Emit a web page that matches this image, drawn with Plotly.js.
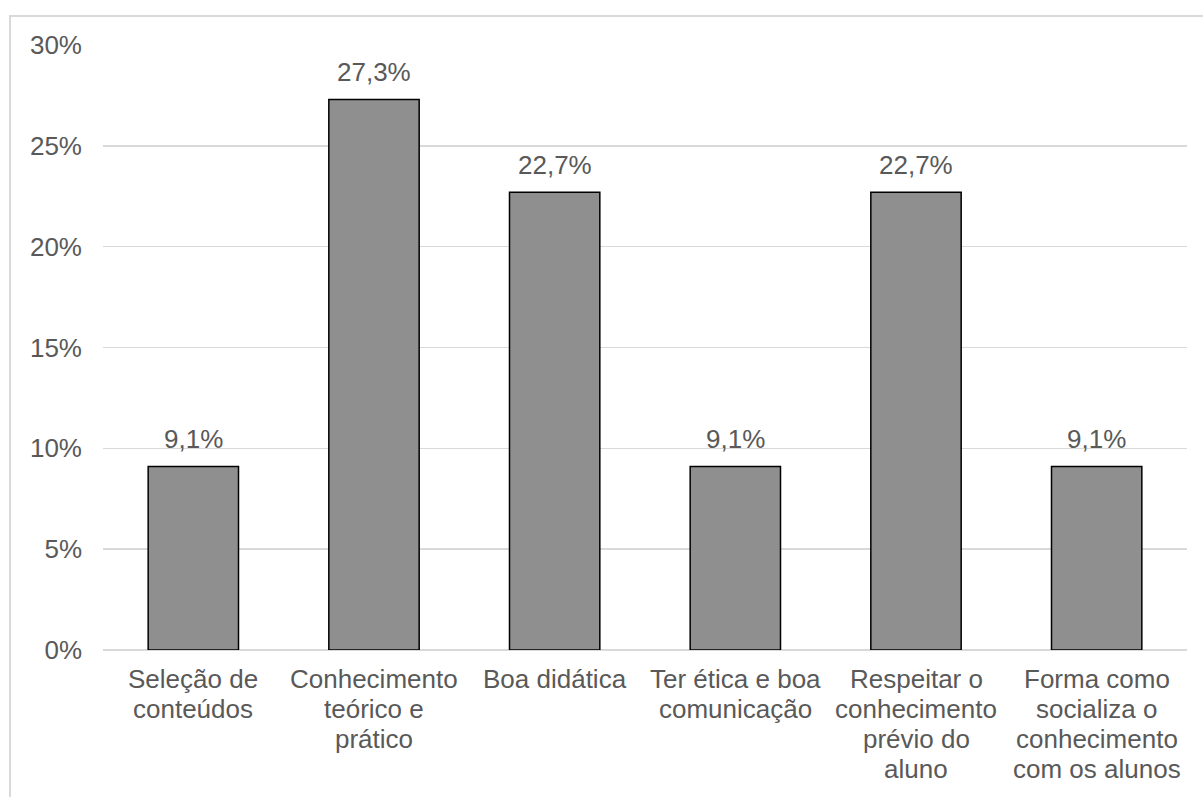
<!DOCTYPE html>
<html>
<head>
<meta charset="utf-8">
<script src="https://cdn.plot.ly/plotly-3.0.1.min.js"></script>
<style>
  html, body { margin: 0; padding: 0; background: #ffffff; }
  #chart { position: absolute; left: 0; top: 0; width: 1203px; height: 797px; }
  #frame {
    position: absolute; left: 9px; top: 15px; width: 1400px; height: 1000px;
    border-left: 2px solid #d9d9d9; border-top: 2px solid #d9d9d9;
    pointer-events: none;
  }
</style>
</head>
<body>
<div id="chart"></div>
<div id="frame"></div>
<script>
// Categories, one entry per bar
const categories = [
  "Seleção de conteúdos",
  "Conhecimento teórico e prático",
  "Boa didática",
  "Ter ética e boa comunicação",
  "Respeitar o conhecimento prévio do aluno",
  "Forma como socializa o conhecimento com os alunos"
];
// Wrapped lines of each category label
const labelLines = [
  ["Seleção de", "conteúdos"],
  ["Conhecimento", "teórico e", "prático"],
  ["Boa didática"],
  ["Ter ética e boa", "comunicação"],
  ["Respeitar o", "conhecimento", "prévio do", "aluno"],
  ["Forma como", "socializa o", "conhecimento", "com os alunos"]
];
// Share of responses, in percent
const percentages = [9.1, 27.3, 22.7, 9.1, 22.7, 9.1];
const tickValues = [0, 5, 10, 15, 20, 25, 30];

const textColor = "#595959";
const fontFamily = "Liberation Sans, Arial, sans-serif";
const font = { family: fontFamily, size: 26, color: textColor };
const lineStep = 30;

const trace = {
  type: "bar",
  x: categories,
  y: percentages,
  marker: { color: "#8f8f8f", line: { color: "#000000", width: 1.5 } },
  hoverinfo: "skip"
};

// Value labels above the bars, with a decimal comma
const valueLabels = categories.map((c, i) => ({
  x: c, y: percentages[i], xref: "x", yref: "y",
  text: percentages[i].toFixed(1).replace(".", ",") + "%",
  showarrow: false, yanchor: "bottom", yshift: 10,
  font: font
}));

// Category labels below the axis, one annotation per line for tight spacing
const categoryLabels = [];
labelLines.forEach((lines, i) => {
  lines.forEach((line, j) => {
    categoryLabels.push({
      x: categories[i], y: 0, xref: "x", yref: "y",
      text: line, showarrow: false, yanchor: "middle",
      yshift: -29 - j * lineStep,
      font: font
    });
  });
});

const layout = {
  width: 1203,
  height: 797,
  margin: { l: 103, r: 16, t: 45, b: 147 },
  paper_bgcolor: "#ffffff",
  plot_bgcolor: "#ffffff",
  font: font,
  bargap: 0.5,
  showlegend: false,
  annotations: valueLabels.concat(categoryLabels),
  xaxis: {
    type: "category",
    showgrid: false,
    showline: false,
    zeroline: false,
    ticks: "",
    showticklabels: false,
    automargin: false
  },
  yaxis: {
    range: [0, 30],
    tickvals: tickValues,
    ticktext: tickValues.map(v => v + "%"),
    showgrid: true,
    gridcolor: "#d9d9d9",
    gridwidth: 1.5,
    zeroline: true,
    zerolinecolor: "#d9d9d9",
    zerolinewidth: 1.5,
    showline: false,
    ticks: "",
    ticklabelstandoff: 20,
    tickfont: font,
    automargin: false,
    fixedrange: true
  }
};

Plotly.newPlot("chart", [trace], layout, { displayModeBar: false, staticPlot: true });
</script>
</body>
</html>
